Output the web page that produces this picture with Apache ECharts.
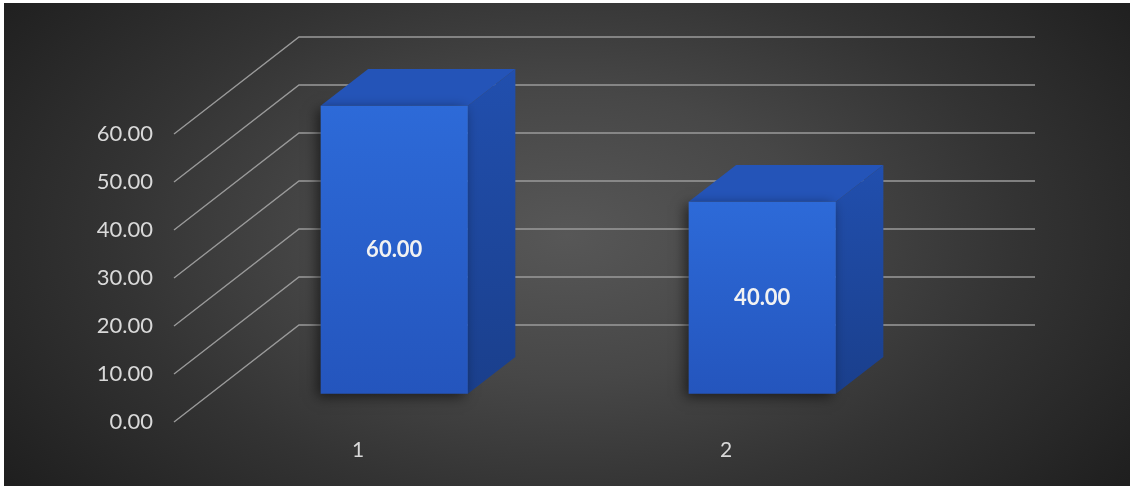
<!DOCTYPE html>
<html>
<head>
<meta charset="utf-8">
<script src="https://cdn.jsdelivr.net/npm/echarts@6/dist/echarts.min.js"></script>
<style>
  html, body { margin: 0; padding: 0; background: #ffffff; width: 1130px; height: 487px; overflow: hidden; }
  #chart {
    position: absolute; left: 4px; top: 3px; width: 1126px; height: 483px;
    background: radial-gradient(ellipse 62% 85% at 50% 48%, #575757 0%, #474747 35%, #333333 65%, #1f1f1f 100%);
  }
</style>
</head>
<body>
<div id="chart"></div>
<script>
// ---- data ----
var categories = ['1', '2'];
var values = [60, 40];
var yTicks = [0, 10, 20, 30, 40, 50, 60];
var yMin = 0, yMax = 60, yInterval = 10;

// ---- 3D projection (screen offset for full depth of the plot box) ----
var DEPTH = [125, -97];
var FRONT_F = 0.29, BACK_F = 0.67;   // bar depth fractions
var BAR_W = 0.40;                    // bar width fraction of band
var FONT = 'Lato, "Open Sans", sans-serif';

var chart = echarts.init(document.getElementById('chart'));

function renderGrid(params, api) {
  var cs = params.coordSys;
  var v = api.value(1);
  var y = api.coord([0, v])[1];
  var x0 = cs.x;
  var pts = [
    [x0, y],
    [x0 + DEPTH[0], y + DEPTH[1]],
    [x0 + cs.width + DEPTH[0], y + DEPTH[1]]
  ];
  return {
    type: 'polyline',
    shape: { points: pts },
    style: { stroke: '#9a9a9a', lineWidth: 1.4, fill: null }
  };
}

function renderBar(params, api) {
  var idx = api.value(0);
  var val = api.value(1);
  var base = api.coord([idx, 0]);
  var top = api.coord([idx, val]);
  var band = api.size([1, 0])[0];
  var w = band * BAR_W;
  var ox = DEPTH[0] * FRONT_F, oy = DEPTH[1] * FRONT_F;
  var dx = DEPTH[0] * (BACK_F - FRONT_F), dy = DEPTH[1] * (BACK_F - FRONT_F);
  var x = base[0] + ox - w / 2;
  var yt = top[1] + oy;
  var yb = base[1] + oy;
  var h = yb - yt;
  return {
    type: 'group',
    children: [
      {
        type: 'polygon',
        shape: { points: [[x + w, yt], [x + w + dx, yt + dy], [x + w + dx, yb + dy], [x + w, yb]] },
        style: {
          fill: new echarts.graphic.LinearGradient(0, 0, 0, 1, [
            { offset: 0, color: '#214fae' },
            { offset: 1, color: '#1a3f8c' }
          ])
        }
      },
      {
        type: 'polygon',
        shape: { points: [[x, yt], [x + w, yt], [x + w + dx, yt + dy], [x + dx, yt + dy]] },
        style: { fill: '#2454b8' }
      },
      {
        type: 'rect',
        shape: { x: x, y: yt, width: w, height: h },
        style: {
          fill: new echarts.graphic.LinearGradient(0, 0, 0, 1, [
            { offset: 0, color: '#2d6ad8' },
            { offset: 1, color: '#2455bd' }
          ]),
          shadowColor: 'rgba(0,0,0,0.55)',
          shadowBlur: 12,
          shadowOffsetX: -4,
          shadowOffsetY: 3
        },
        textContent: {
          style: {
            text: val.toFixed(2),
            fill: '#f2f2f2',
            fontSize: 22,
            fontWeight: 'bold',
            fontFamily: FONT
          }
        },
        textConfig: { position: 'inside' }
      }
    ]
  };
}

var option = {
  backgroundColor: 'transparent',
  animation: false,
  grid: { left: 170, top: 131, width: 736, height: 288 },
  xAxis: {
    type: 'category',
    data: categories,
    axisLine: { show: false },
    axisTick: { show: false },
    axisLabel: { color: '#d9d9d9', fontSize: 21, fontFamily: FONT, margin: 18 }
  },
  yAxis: {
    type: 'value',
    min: yMin, max: yMax, interval: yInterval,
    axisLine: { show: false },
    axisTick: { show: false },
    splitLine: { show: false },
    axisLabel: {
      color: '#d9d9d9', fontSize: 22, fontFamily: FONT, margin: 21,
      formatter: function (v) { return v.toFixed(2); }
    }
  },
  series: [
    {
      type: 'custom',
      z: 1,
      renderItem: renderGrid,
      data: yTicks.map(function (t) { return [0, t]; }),
      encode: { x: 0, y: 1 },
      silent: true
    },
    {
      type: 'custom',
      z: 5,
      renderItem: renderBar,
      data: values.map(function (v, i) { return [i, v]; }),
      encode: { x: 0, y: 1 }
    }
  ]
};
chart.setOption(option);
</script>
</body>
</html>
